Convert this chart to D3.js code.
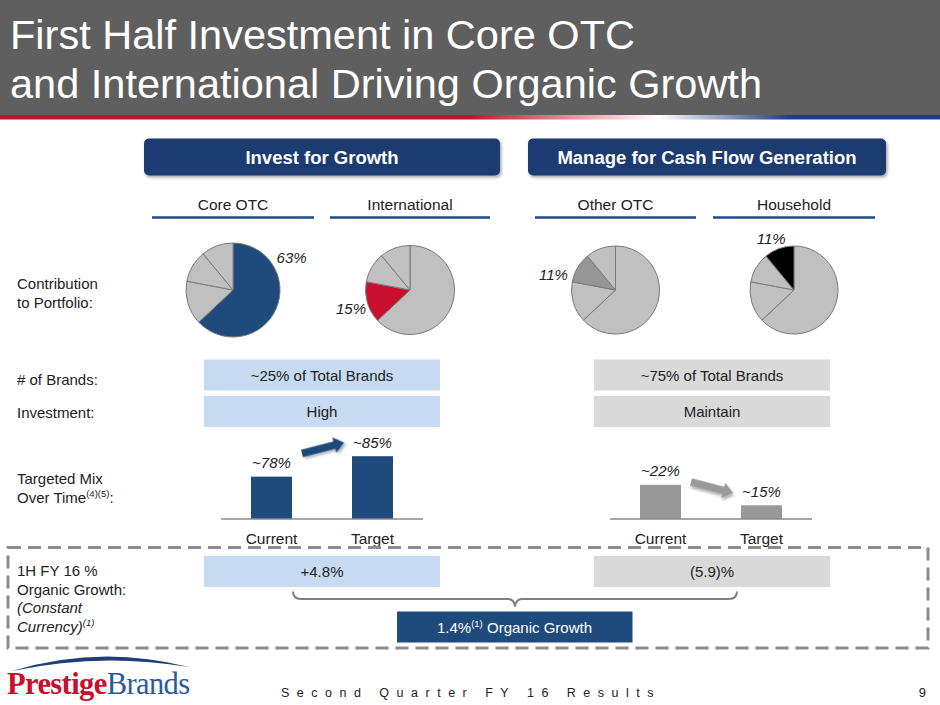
<!DOCTYPE html>
<html>
<head>
<meta charset="utf-8">
<script src="https://cdn.jsdelivr.net/npm/d3@7"></script>
<style>
  body { margin: 0; background: #fff; }
  svg { display: block; font-family: "Liberation Sans", Arial, sans-serif; }
</style>
</head>
<body>
<svg id="slide" width="940" height="705"></svg>
<script>
// ---- data ----
const segments = ["Core OTC", "International", "Other OTC", "Household"];
const shares = [63, 15, 11, 11];
const shareColors = ["#1f4a7c", "#c8102e", "#969696", "#000000"];

const brandRows = ["~25% of Total Brands", "~75% of Total Brands"];
const investmentRows = ["High", "Maintain"];
const growthRows = ["+4.8%", "(5.9)%"];
const totalGrowth = "1.4%";

const mixCategories = ["Current", "Target"];
const growMix = [78, 85];
const manageMix = [22, 15];

const svg = d3.select("#slide");
const defs = svg.append("defs");

const stripe = defs.append("linearGradient").attr("id", "stripe");
stripe.append("stop").attr("offset", "0%").attr("stop-color", "#c8102e");
stripe.append("stop").attr("offset", "50%").attr("stop-color", "#c8102e");
stripe.append("stop").attr("offset", "70%").attr("stop-color", "#ffffff");
stripe.append("stop").attr("offset", "84%").attr("stop-color", "#1f3e7a");
stripe.append("stop").attr("offset", "100%").attr("stop-color", "#1f3e7a");

const shadow = defs.append("filter").attr("id", "shadow")
    .attr("x", "-20%").attr("y", "-40%").attr("width", "140%").attr("height", "180%");
shadow.append("feDropShadow").attr("dx", 1.5).attr("dy", 2).attr("stdDeviation", 1.5)
    .attr("flood-color", "#000").attr("flood-opacity", 0.35);

// ---- title bar ----
svg.append("rect").attr("x", 0).attr("y", 0).attr("width", 940).attr("height", 115).attr("fill", "#5f5f5f");
svg.append("rect").attr("x", 0).attr("y", 115).attr("width", 940).attr("height", 4.5).attr("fill", "url(#stripe)");
svg.append("text").attr("x", 10).attr("y", 49).attr("fill", "#fff").attr("font-size", "41.5px")
    .text("First Half Investment in Core OTC");
svg.append("text").attr("x", 10).attr("y", 98).attr("fill", "#fff").attr("font-size", "41.5px")
    .text("and International Driving Organic Growth");

// ---- section headers ----
const sections = [
    { label: "Invest for Growth", x: 144, w: 356 },
    { label: "Manage for Cash Flow Generation", x: 528, w: 358 }
];
sections.forEach(s => {
    svg.append("rect").attr("x", s.x).attr("y", 138.5).attr("width", s.w).attr("height", 37)
        .attr("rx", 5).attr("fill", "#1b3a6f").attr("filter", "url(#shadow)");
    svg.append("text").attr("x", s.x + s.w / 2).attr("y", 164).attr("text-anchor", "middle")
        .attr("fill", "#fff").attr("font-size", "18.5px").attr("font-weight", "bold")
        .text(s.label);
});

// ---- row labels ----
const rowLabel = (lines, x, y0, step) => {
    const t = svg.append("text").attr("x", x).attr("font-size", "15px").attr("fill", "#222");
    lines.forEach((l, i) => {
        const ts = t.append("tspan").attr("x", x).attr("y", y0 + i * step);
        if (l.italic) ts.attr("font-style", "italic");
        ts.text(l.text);
        if (l.sup) ts.append("tspan").attr("font-size", "9.5px").attr("dy", -6).text(l.sup);
        if (l.tail) ts.append("tspan").attr("dy", 6).text(l.tail);
    });
};
rowLabel([{ text: "Contribution" }, { text: "to Portfolio:" }], 17, 289, 18.5);
rowLabel([{ text: "# of Brands:" }], 17, 385, 0);
rowLabel([{ text: "Investment:" }], 17, 418, 0);
rowLabel([{ text: "Targeted Mix" }, { text: "Over Time", sup: "(4)(5)", tail: ":" }], 17, 484, 18.5);
rowLabel([{ text: "1H FY 16 %" }, { text: "Organic Growth:" },
          { text: "(Constant", italic: true }, { text: "Currency)", italic: true, sup: "(1)" }], 17, 576, 18.6);

// ---- column headers and pies ----
// labelAngle / labelDist: where the % label sits around each pie (degrees clockwise from 12 o'clock)
const columns = [
    { cx: 233, x0: 152, x1: 314, r: 47, labelAngle: 61, labelDist: 67 },
    { cx: 410, x0: 330, x1: 490, r: 44.5, labelAngle: 252, labelDist: 62 },
    { cx: 615.5, x0: 535, x1: 696, r: 44, labelAngle: 284, labelDist: 64 },
    { cx: 794, x0: 713, x1: 875, r: 44, labelAngle: 336, labelDist: 56 }
];

const pie = d3.pie().sort(null).value(d => d);
const arcs = pie(shares);

columns.forEach((c, i) => {
    svg.append("text").attr("x", c.cx).attr("y", 210).attr("text-anchor", "middle")
        .attr("font-size", "15.5px").attr("fill", "#222").text(segments[i]);
    svg.append("line").attr("x1", c.x0).attr("x2", c.x1).attr("y1", 217.5).attr("y2", 217.5)
        .attr("stroke", "#1f4a8c").attr("stroke-width", 2.5);

    const arc = d3.arc().innerRadius(0).outerRadius(c.r);
    const g = svg.append("g").attr("transform", `translate(${c.cx},290)`);
    g.selectAll("path")
        .data(arcs)
        .join("path")
        .attr("d", arc)
        .attr("fill", (d, j) => j === i ? shareColors[i] : "#c0c0c0")
        .attr("stroke", "#7a7a7a")
        .attr("stroke-width", 1);

    const ang = c.labelAngle * Math.PI / 180;
    g.append("text")
        .attr("x", c.labelDist * Math.sin(ang))
        .attr("y", -c.labelDist * Math.cos(ang))
        .attr("dy", "0.35em")
        .attr("text-anchor", "middle")
        .attr("font-size", "15px").attr("font-style", "italic").attr("fill", "#222")
        .text(shares[i] + "%");
});

// ---- text boxes ----
const boxX = [204, 594];
const boxW = 236;
const boxFill = ["#c6dbf1", "#d9d9d9"];
const textBox = (rows, y) => {
    rows.forEach((t, i) => {
        svg.append("rect").attr("x", boxX[i]).attr("y", y).attr("width", boxW).attr("height", 31)
            .attr("fill", boxFill[i]);
        svg.append("text").attr("x", boxX[i] + boxW / 2).attr("y", y + 21).attr("text-anchor", "middle")
            .attr("font-size", "15px").attr("fill", "#222").text(t);
    });
};
textBox(brandRows, 359.5);
textBox(investmentRows, 396);
textBox(growthRows, 556);

// ---- targeted mix bar charts ----
const baseline = 519;
function drawMix(values, x0, x1, axisMin, barColor) {
    const x = d3.scalePoint().domain(mixCategories).range([x0, x1]).padding(0.5);
    const y = d3.scaleLinear().domain([axisMin, axisMin + 25]).range([baseline, baseline - 73]);
    const bw = 41;
    const g = svg.append("g");

    g.selectAll("rect")
        .data(values)
        .join("rect")
        .attr("x", (d, i) => x(mixCategories[i]) - bw / 2)
        .attr("y", d => y(d))
        .attr("width", bw)
        .attr("height", d => y(axisMin) - y(d))
        .attr("fill", barColor);

    g.selectAll(".val")
        .data(values)
        .join("text")
        .attr("class", "val")
        .attr("x", (d, i) => x(mixCategories[i]))
        .attr("y", d => y(d) - 8.5)
        .attr("text-anchor", "middle")
        .attr("font-size", "15px").attr("font-style", "italic").attr("fill", "#222")
        .text(d => `~${d}%`);

    g.append("line").attr("x1", x0).attr("x2", x1).attr("y1", baseline).attr("y2", baseline)
        .attr("stroke", "#8a8a8a").attr("stroke-width", 1.5);

    g.selectAll(".cat")
        .data(mixCategories)
        .join("text")
        .attr("class", "cat")
        .attr("x", d => x(d))
        .attr("y", 543.5)
        .attr("text-anchor", "middle")
        .attr("font-size", "15.5px").attr("fill", "#222")
        .text(d => d);

    // trend arrow between the bars
    const y0 = y(values[0]), y1 = y(values[1]);
    const sx = x(mixCategories[0]) + bw / 2 + 10;
    const ex = x(mixCategories[1]) - bw / 2 - 8;
    const sy = (y0 + y1) / 2 - 13;
    const ey = sy + (y1 - y0) * 0.53;
    const len = Math.hypot(ex - sx, ey - sy);
    const ang = Math.atan2(ey - sy, ex - sx) * 180 / Math.PI;
    const hl = 10, sw = 3.8, hw = 8;
    g.append("path")
        .attr("d", `M0,${-sw} L${len - hl},${-sw} L${len - hl},${-hw} L${len},0 L${len - hl},${hw} L${len - hl},${sw} L0,${sw} Z`)
        .attr("transform", `translate(${sx},${sy}) rotate(${ang})`)
        .attr("fill", barColor)
        .attr("filter", "url(#shadow)");
}
drawMix(growMix, 221, 423, 63.5, "#1f4a7c");
drawMix(manageMix, 610, 812, 10.3, "#999999");

// ---- organic growth section ----
svg.append("rect").attr("x", 8).attr("y", 547.5).attr("width", 920).attr("height", 100.5)
    .attr("fill", "none").attr("stroke", "#8c8c8c").attr("stroke-width", 3)
    .attr("stroke-dasharray", "13,7");

svg.append("path")
    .attr("d", "M293,591.5 Q293,599 301,599 L508,599 Q514,599 515,606.5 Q516,599 522,599 L729,599 Q737,599 737,591.5")
    .attr("fill", "none").attr("stroke", "#808080").attr("stroke-width", 2);

svg.append("rect").attr("x", 397).attr("y", 611.5).attr("width", 235.5).attr("height", 31)
    .attr("fill", "#1f4a7c");
const tg = svg.append("text").attr("x", 514.5).attr("y", 633).attr("text-anchor", "middle")
    .attr("font-size", "15px").attr("fill", "#fff");
tg.append("tspan").text(totalGrowth);
tg.append("tspan").attr("font-size", "9.5px").attr("dy", -6).text("(1)");
tg.append("tspan").attr("dy", 6).text(" Organic Growth");

// ---- footer ----
svg.append("path")
    .attr("d", "M12,671 Q100,644 189,667 Q100,652 12,671 Z")
    .attr("fill", "#1f3e7a");
const logo = svg.append("text").attr("x", 7).attr("y", 694)
    .attr("font-family", "'Liberation Serif', 'Times New Roman', serif").attr("font-size", "30.5px")
    .attr("letter-spacing", "-0.6");
logo.append("tspan").attr("fill", "#c8102e").attr("font-weight", "bold").text("Prestige");
logo.append("tspan").attr("fill", "#2a5a9c").text("Brands");

svg.append("text").attr("x", 281).attr("y", 697).attr("font-size", "12.5px").attr("fill", "#222")
    .attr("letter-spacing", "7.5").text("Second Quarter FY 16 Results");
svg.append("text").attr("x", 926).attr("y", 697).attr("text-anchor", "end")
    .attr("font-size", "13px").attr("fill", "#222").text("9");
</script>
</body>
</html>
